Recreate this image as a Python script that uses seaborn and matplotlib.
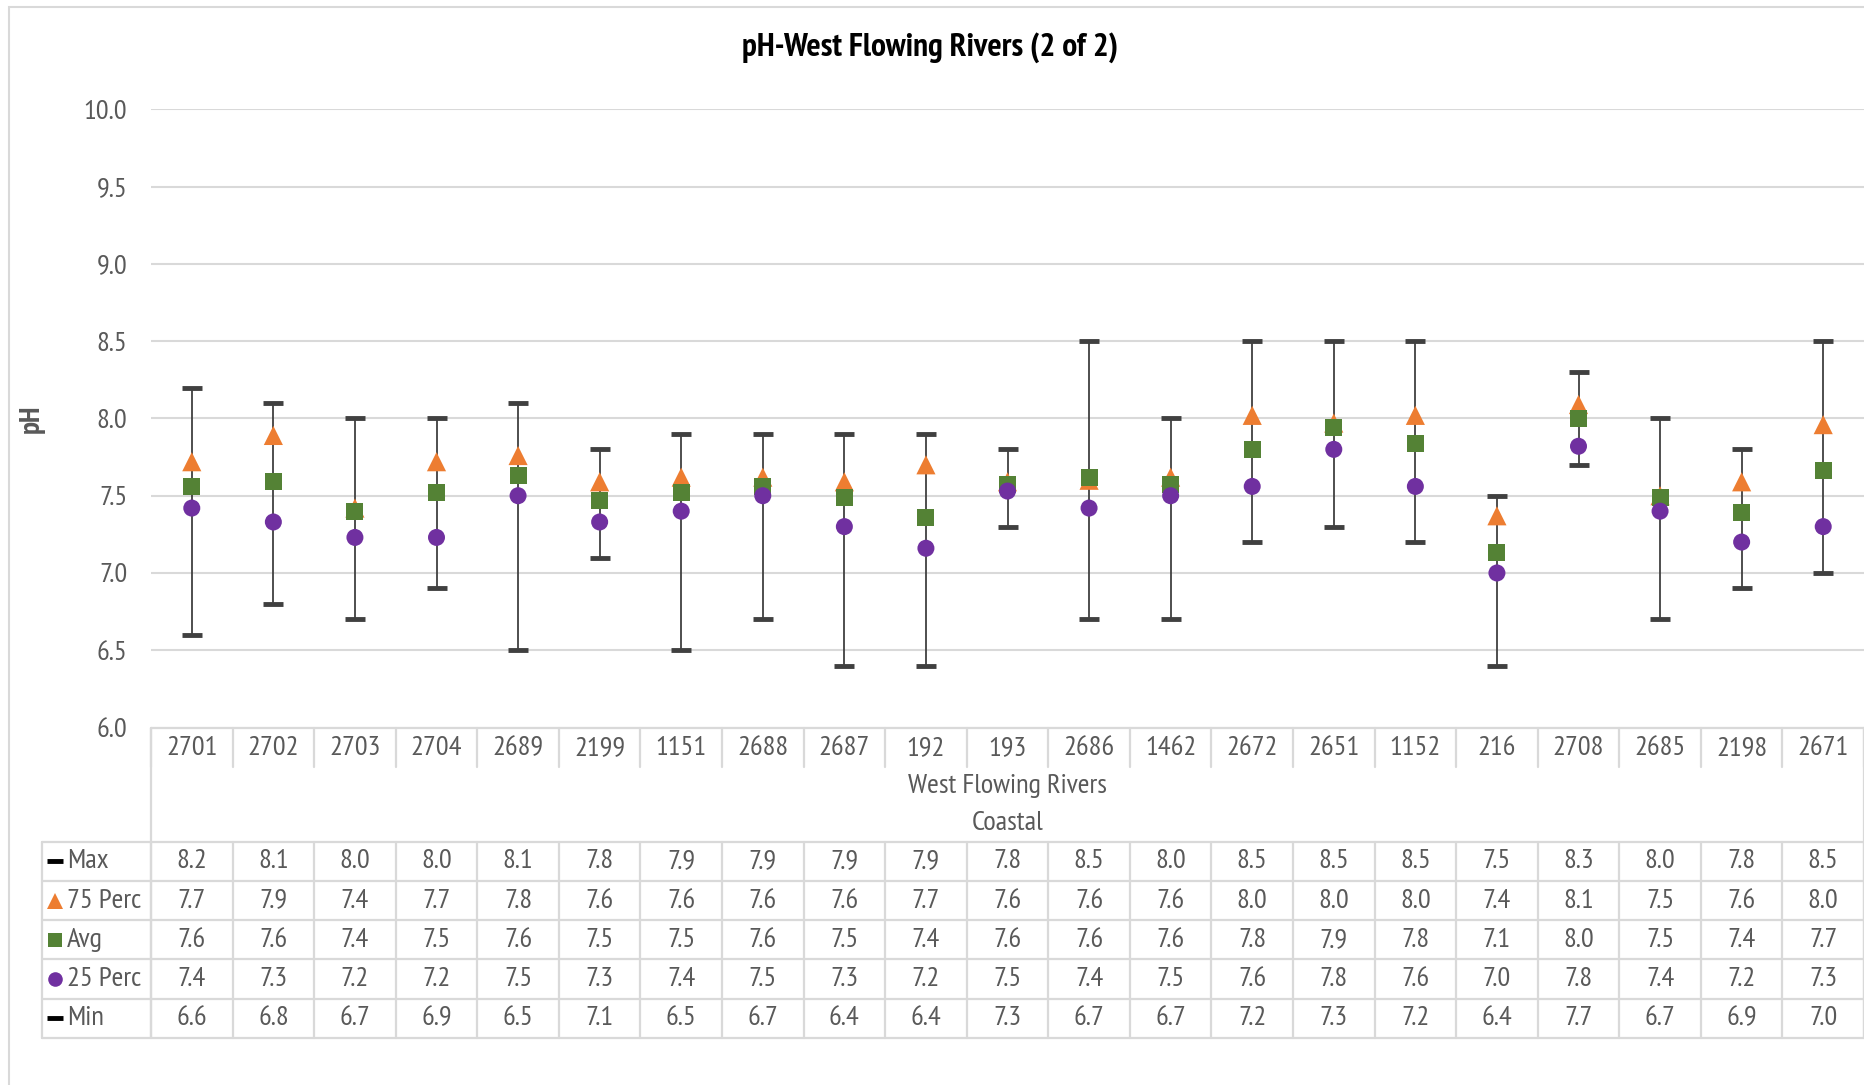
import numpy as np
import matplotlib
matplotlib.use("Agg")
import matplotlib.pyplot as plt
from matplotlib import font_manager as fm
from matplotlib.patches import Rectangle
import seaborn as sns

# data
sites = ["2701", "2702", "2703", "2704", "2689", "2199", "1151", "2688", "2687", "192", "193",
         "2686", "1462", "2672", "2651", "1152", "216", "2708", "2685", "2198", "2671"]
ph_max = [8.2, 8.1, 8.0, 8.0, 8.1, 7.8, 7.9, 7.9, 7.9, 7.9, 7.8, 8.5, 8.0, 8.5, 8.5, 8.5, 7.5, 8.3, 8.0, 7.8, 8.5]
ph_p75 = [7.72, 7.89, 7.42, 7.72, 7.76, 7.59, 7.62, 7.62, 7.59, 7.70, 7.59, 7.60, 7.62, 8.02, 7.97, 8.02, 7.37, 8.09, 7.50, 7.59, 7.96]
ph_avg = [7.56, 7.59, 7.40, 7.52, 7.63, 7.47, 7.52, 7.56, 7.49, 7.36, 7.57, 7.62, 7.57, 7.80, 7.94, 7.84, 7.13, 8.00, 7.49, 7.39, 7.66]
ph_p25 = [7.42, 7.33, 7.23, 7.23, 7.50, 7.33, 7.40, 7.50, 7.30, 7.16, 7.53, 7.42, 7.50, 7.56, 7.80, 7.56, 7.00, 7.82, 7.40, 7.20, 7.30]
ph_min = [6.6, 6.8, 6.7, 6.9, 6.5, 7.1, 6.5, 6.7, 6.4, 6.4, 7.3, 6.7, 6.7, 7.2, 7.3, 7.2, 6.4, 7.7, 6.7, 6.9, 7.0]
y_ticks = [6.0, 6.5, 7.0, 7.5, 8.0, 8.5, 9.0, 9.5, 10.0]

ORANGE = "#ED7D31"
GREEN = "#548235"
PURPLE = "#7030A0"
GRID = "#D9D9D9"
TXT = "#595959"

sns.set_style("white")


def wnum(w):
    return w if isinstance(w, (int, float)) else fm.weight_dict.get(w, 400)


# look for a narrow family that also has a bold face
fams = {}
for f in fm.fontManager.ttflist:
    if ("Narrow" in f.name or "Condensed" in f.name) and f.style == "normal":
        fams.setdefault(f.name, set()).add(wnum(f.weight))
good = [n for n, ws in fams.items() if 400 in ws and any(w >= 700 for w in ws)]
good.sort(key=lambda n: (0 if "Narrow" in n else 1, n))
reg = [n for n, ws in fams.items() if 400 in ws]
if good:
    narrow = good[0]
elif reg:
    narrow = sorted(reg)[0]
else:
    narrow = None
if narrow:
    plt.rcParams["font.family"] = [narrow, "Liberation Sans", "DejaVu Sans"]
    FS = 20.5
else:
    plt.rcParams["font.family"] = ["Liberation Sans", "DejaVu Sans"]
    FS = 17
if narrow and narrow in good:
    title_kw = dict(fontsize=24, fontweight="bold")
    ph_size = 21
else:
    title_kw = dict(fontsize=16, fontweight="bold", family=["Liberation Sans", "DejaVu Sans"])
    ph_size = 15

W, H = 1864, 1085
fig = plt.figure(figsize=(W / 100, H / 100), dpi=100)

# outer chart border
fig.patches.append(Rectangle((9 / W, -0.1), 2, 1 - 7 / H + 0.1, transform=fig.transFigure,
                             fill=False, ec=GRID, lw=1.5))

x0, x1 = 151, 1864
y_top, y_bot = 109.4, 727.5
ax = fig.add_axes([x0 / W, 1 - y_bot / H, (x1 - x0) / W, (y_bot - y_top) / H])
xpos = np.arange(len(sites))

# whiskers min-max
mid = (np.array(ph_max) + np.array(ph_min)) / 2
half = (np.array(ph_max) - np.array(ph_min)) / 2
eb = ax.errorbar(xpos, mid, yerr=half, fmt="none", ecolor="#404040", elinewidth=1.3,
                 capsize=7.5, capthick=3.5, zorder=2)
for cl in eb[1]:
    cl.set_color("black")

sns.scatterplot(x=xpos, y=ph_p75, marker="^", color=ORANGE, s=190, edgecolor="none", ax=ax, zorder=3)
sns.scatterplot(x=xpos, y=ph_avg, marker="s", color=GREEN, s=150, edgecolor="none", ax=ax, zorder=4)
sns.scatterplot(x=xpos, y=ph_p25, marker="o", color=PURPLE, s=150, edgecolor="none", ax=ax, zorder=5)

ax.set_xlim(-0.5, len(sites) - 0.5)
ax.set_ylim(6, 10)
ax.set_yticks(y_ticks)
ax.set_yticklabels([f"{v:.1f}" for v in y_ticks], fontsize=FS, color=TXT)
ax.set_xticks([])
ax.tick_params(axis="y", length=0, pad=17)
ax.yaxis.grid(True, color=GRID, lw=1.5)
ax.set_axisbelow(True)
for s in ax.spines.values():
    s.set_visible(False)
ax.set_xlabel("")
ax.set_ylabel("")

fig.text(930 / W, 1 - 48 / H, "pH-West Flowing Rivers (2 of 2)", ha="center", va="center",
         color="black", **title_kw)
pkw = dict(title_kw)
pkw["fontsize"] = ph_size
fig.text(32 / W, 1 - 419 / H, "pH", rotation=90, ha="center", va="center", color=TXT, **pkw)

# data table under the plot
t_left = 42
t_bot = 1038
cat_w = (x1 - x0) / len(sites)
tab = fig.add_axes([t_left / W, 1 - t_bot / H, (x1 - t_left) / W, (t_bot - y_bot) / H])
xl = -0.5 - (x0 - t_left) / cat_w
xr = len(sites) - 0.5
tab.set_xlim(xl, xr)
tab.set_ylim(t_bot - y_bot, 0)
tab.axis("off")

head_h = 39.3
row0 = 114.2
row_h = 39.26
lkw = dict(color=GRID, lw=1.6, clip_on=False)
tab.plot([-0.5, xr], [0, 0], **lkw)
for i in range(len(sites) + 1):
    tab.plot([i - 0.5, i - 0.5], [0, head_h], **lkw)
    tab.plot([i - 0.5, i - 0.5], [row0, row0 + 5 * row_h], **lkw)
tab.plot([-0.5, -0.5], [0, row0 + 5 * row_h], **lkw)
tab.plot([xr, xr], [0, row0 + 5 * row_h], **lkw)
tab.plot([xl, xl], [row0, row0 + 5 * row_h], **lkw)
for k in range(6):
    tab.plot([xl, xr], [row0 + k * row_h] * 2, **lkw)

for i, s in enumerate(sites):
    tab.text(i, 20.5, s, ha="center", va="center", fontsize=FS, color=TXT)
tab.text((len(sites) - 1) / 2, 58.5, "West Flowing Rivers", ha="center", va="center", fontsize=FS, color=TXT)
tab.text((len(sites) - 1) / 2, 95.5, "Coastal", ha="center", va="center", fontsize=FS, color=TXT)

rows = [("Max", ph_max, "_", "black", 12), ("75 Perc", ph_p75, "^", ORANGE, 11),
        ("Avg", ph_avg, "s", GREEN, 9.5), ("25 Perc", ph_p25, "o", PURPLE, 10.5),
        ("Min", ph_min, "_", "black", 12)]
key_x = xl + 13 / cat_w
lab_x = xl + 25 / cat_w
for k, (name, vals, mk, col, ms) in enumerate(rows):
    yc = row0 + (k + 0.5) * row_h
    tab.plot([key_x], [yc], marker=mk, color=col, ms=ms, mew=3.5 if mk == "_" else 0, clip_on=False)
    tab.text(lab_x, yc, name, ha="left", va="center", fontsize=FS, color=TXT)
    for i, v in enumerate(vals):
        tab.text(i, yc, f"{v:.1f}", ha="center", va="center", fontsize=FS, color=TXT)

fig.savefig("out.png", dpi=100)
